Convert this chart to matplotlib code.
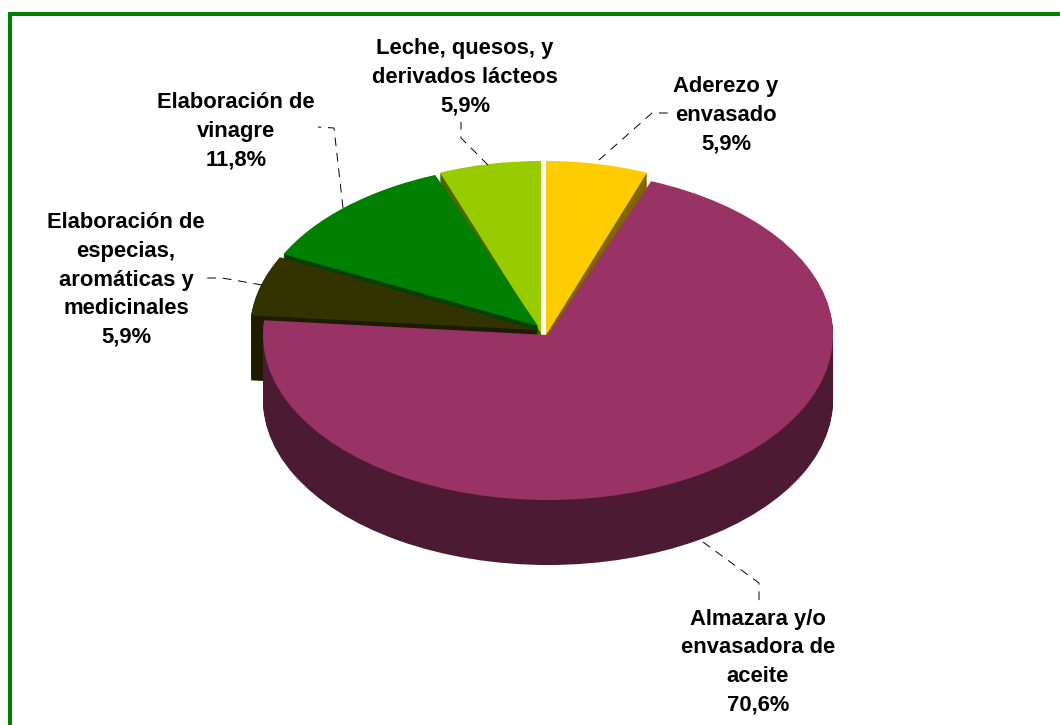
import matplotlib
matplotlib.use("Agg")
import matplotlib.pyplot as plt
from matplotlib.patches import Wedge
from matplotlib.transforms import Affine2D
import numpy as np

# Data, clockwise from 12 o'clock
categories = ["Aderezo y\nenvasado", "Almazara y/o\nenvasadora de\naceite",
              "Elaboración de\nespecias,\naromáticas y\nmedicinales",
              "Elaboración de\nvinagre", "Leche, quesos, y\nderivados lácteos"]
values = [5.9, 70.6, 5.9, 11.8, 5.9]
pct_labels = ["5,9%", "70,6%", "5,9%", "11,8%", "5,9%"]

top_colors = ["#FFCC00", "#993366", "#333300", "#008000", "#99CC00"]
side_colors = ["#806600", "#4D1A33", "#1E1C00", "#004000", "#4D6600"]

# Per-slice ellipse geometry (centre x, centre y, radius x, radius y), in pixels
geometry = [(546, 335, 279, 174), (548, 335, 285, 165), (538, 330, 288, 164),
            (538, 326, 284, 162), (541, 333, 279, 172)]
depth = 65
draw_order = [4, 0, 3, 2, 1]

label_pos = [(726, 115), (758, 662), (126, 280), (236, 131), (465, 77)]
leaders = [[(599, 160), (652, 113), (668, 113)],
           [(703, 542), (759, 583), (759, 601)],
           [(262, 285), (222, 278), (206, 278)],
           [(343, 208), (334, 128), (318, 127)],
           [(488, 165), (461, 138), (461, 122)]]

fig = plt.figure(figsize=(10.6, 7.25), dpi=100, facecolor="white")
ax = fig.add_axes([0, 0, 1, 1])
ax.set_xlim(0, 1060)
ax.set_ylim(725, 0)
ax.axis("off")

fractions = np.array(values) / np.sum(values)
edges = np.concatenate([[0], np.cumsum(fractions)]) * 360


def slice_patch(i, dy, color, z):
    cx, cy, rx, ry = geometry[i]
    # y axis of the axes points down, so flip to keep angles counter-clockwise
    tr = Affine2D().scale(rx, -ry).translate(cx, cy + dy) + ax.transData
    w = Wedge((0, 0), 1, 90 - edges[i + 1], 90 - edges[i], transform=tr,
              facecolor=color, edgecolor="none", linewidth=0, zorder=z)
    ax.add_patch(w)


z = 2.0
for i in draw_order:
    for dy in range(depth, 0, -1):
        slice_patch(i, dy, side_colors[i], z)
        z += 0.001
    slice_patch(i, 0, top_colors[i], z)
    z += 0.001

for pts in leaders:
    xs, ys = zip(*pts)
    ax.plot(xs, ys, color="black", lw=0.7, dashes=(9, 7), zorder=50)

for name, pct, (x, y) in zip(categories, pct_labels, label_pos):
    ax.text(x, y, name + "\n" + pct, ha="center", va="center", multialignment="center",
            family="Liberation Sans", weight="bold", fontsize=15.8, linespacing=1.47,
            color="black", zorder=60)

# Green frame: left and top only
ax.plot([10, 10], [725, 14], color="#008000", lw=2.88, solid_capstyle="projecting", zorder=70)
ax.plot([10, 1060], [14, 14], color="#008000", lw=2.88, solid_capstyle="butt", zorder=70)

fig.savefig("out.png", dpi=100, facecolor="white")
